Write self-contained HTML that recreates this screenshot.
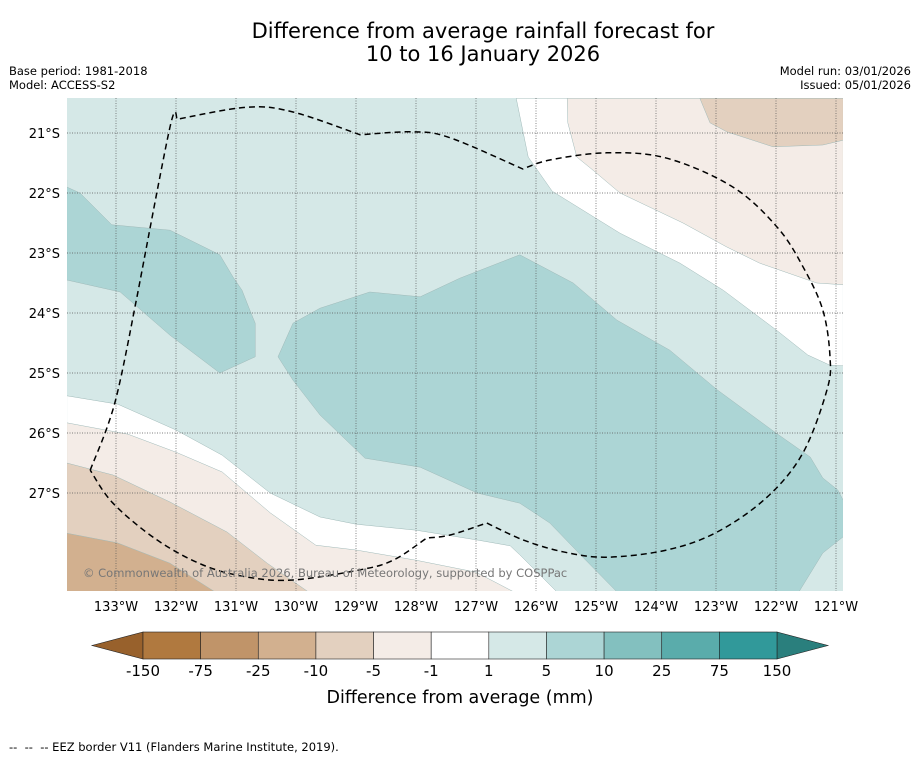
<!DOCTYPE html>
<html><head><meta charset="utf-8"><style>
body{margin:0;background:#fff;font-family:"Liberation Sans","DejaVu Sans",sans-serif;}
svg{display:block}
text{font-family:"DejaVu Sans","Liberation Sans",sans-serif;}
</style></head><body>
<svg id="chart" width="919" height="758" viewBox="0 0 919 758">
<rect width="919" height="758" fill="#fff"/>
<text x="483" y="38" font-size="21" text-anchor="middle" fill="#000">Difference from average rainfall forecast for</text>
<text x="483" y="61" font-size="21" text-anchor="middle" fill="#000">10 to 16 January 2026</text>
<text x="9" y="75" font-size="11.5">Base period: 1981-2018</text>
<text x="9" y="89" font-size="11.5">Model: ACCESS-S2</text>
<text x="911" y="75" font-size="11.5" text-anchor="end">Model run: 03/01/2026</text>
<text x="911" y="89" font-size="11.5" text-anchor="end">Issued: 05/01/2026</text>
<defs><clipPath id="mapclip"><rect x="67" y="98" width="776" height="493"/></clipPath></defs>
<g id="map" clip-path="url(#mapclip)">
<rect x="67" y="98" width="776" height="493" fill="#d5e8e7"/>
</g>
<g id="grid"></g>
<g id="axes"></g>
<g id="eez"></g>
<text x="83" y="577" font-size="11.5" fill="#777">© Commonwealth of Australia 2026, Bureau of Meteorology, supported by COSPPac</text>
<g id="cbar"></g>
<text x="460" y="703" font-size="17.5" text-anchor="middle">Difference from average (mm)</text>
<text x="9" y="751" font-size="11.5" xml:space="preserve">--  --  -- EEZ border V11 (Flanders Marine Institute, 2019).</text>
</svg>
<script>
const NS="http://www.w3.org/2000/svg";
// Axis ticks
const lonTicks=[133,132,131,130,129,128,127,126,125,124,123,122,121];
const latTicks=[21,22,23,24,25,26,27];
// Colorbar
const cbarLevels=[-150,-75,-25,-10,-5,-1,1,5,10,25,75,150];
const cbarColors=["#b0793f","#c09469","#d2b08f","#e3d0bf","#f4ece7","#ffffff","#d5e8e7","#acd5d5","#83c0bf","#5aacab","#31999a"];
const cbarLowColor="#98612c", cbarHighColor="#2a7f7d";
// Contour regions [lonW, latS]
const whiteNE=[[126.33,20.42],[126.13,21.4],[125.73,21.97],[124.6,22.67],[123.6,23.17],[122.88,23.62],[122.0,24.28],[121.47,24.7],[121.1,24.87],[120.88,24.88],[120.88,20.42]];
const lightBeigeNE=[[125.48,20.42],[125.47,20.83],[125.32,21.4],[125.05,21.62],[124.6,22.0],[123.55,22.5],[122.82,22.9],[122.27,23.17],[121.32,23.5],[120.88,23.53],[120.88,20.42]];
const beigeNE=[[123.27,20.42],[123.1,20.83],[122.82,20.98],[122.05,21.23],[121.22,21.2],[120.88,21.12],[120.88,20.42]];
const whiteSW=[[133.82,25.38],[132.97,25.52],[132.0,25.95],[131.23,26.37],[130.43,27.0],[129.6,27.4],[129.0,27.52],[128.0,27.62],[127.0,27.78],[126.43,27.88],[126.27,28.03],[125.6,28.7],[133.82,28.7]];
const lightBeigeSW=[[133.82,25.83],[132.8,26.02],[132.0,26.32],[131.23,26.65],[130.43,27.33],[129.67,27.87],[129.0,27.95],[128.0,28.12],[127.0,28.32],[126.27,28.7],[133.82,28.7]];
const beigeSW=[[133.82,26.5],[133.05,26.7],[132.1,27.15],[131.15,27.65],[130.48,28.17],[129.72,28.7],[133.82,28.7]];
const tanSW=[[133.82,27.67],[132.98,27.83],[132.1,28.17],[131.27,28.7],[133.82,28.7]];
const tealWest=[[133.82,21.78],[133.82,21.9],[133.6,22.0],[133.07,22.53],[132.1,22.62],[131.27,23.03],[131.05,23.4],[130.9,23.62],[130.77,23.95],[130.68,24.17],[130.68,24.73],[131.27,25.0],[132.1,24.37],[132.93,23.65],[133.82,23.45]];
const tealCentral=[[130.05,24.17],[129.6,23.92],[128.77,23.65],[127.93,23.73],[127.27,23.42],[126.27,23.03],[125.38,23.5],[124.65,24.12],[123.77,24.62],[122.98,25.28],[122.0,26.0],[121.43,26.4],[121.22,26.75],[120.97,26.95],[120.88,27.12],[120.88,27.73],[121.22,28.0],[121.65,28.7],[124.6,28.7],[125.22,28.07],[125.77,27.5],[126.27,27.17],[126.98,27.0],[127.93,26.57],[128.85,26.42],[129.6,25.7],[130.05,25.12],[130.3,24.73]];
const eezLine=[[133.43,26.62],[133.02,25.5],[132.65,23.73],[132.1,20.9],[131.98,20.77],[130.82,20.57],[130.05,20.65],[128.93,21.03],[128.05,20.98],[127.43,21.08],[126.22,21.6],[125.77,21.45],[124.82,21.33],[123.82,21.42],[122.72,21.9],[121.98,22.57],[121.55,23.23],[121.22,23.95],[121.1,24.73],[121.15,25.28],[121.55,26.33],[122.15,27.07],[122.98,27.65],[123.82,27.95],[124.82,28.07],[125.55,27.98],[126.22,27.78],[126.82,27.5],[127.43,27.7],[127.82,27.75],[128.38,28.12],[128.93,28.28],[130.05,28.45],[130.82,28.4],[131.55,28.2],[132.32,27.78],[133.05,27.17],[133.43,26.62]];
const eezCorners=[0,2,4,7,10,27,29,37];

const X=lon=>116+(133-lon)*60;
const Y=lat=>133+(lat-21)*60;
function pts(a){return a.map(p=>X(p[0]).toFixed(1)+","+Y(p[1]).toFixed(1)).join(" ");}
const map=document.getElementById("map");
function poly(a,fill,name){
  const p=document.createElementNS(NS,"polygon");
  p.setAttribute("points",pts(a));
  p.setAttribute("fill",fill);
  p.setAttribute("stroke","#9fb9b8");
  p.setAttribute("stroke-width","0.5");
  
  
  map.appendChild(p);
}
poly(whiteNE,cbarColors[5],"region-neutral-ne");
poly(lightBeigeNE,cbarColors[4],"region-minus5-ne");
poly(beigeNE,cbarColors[3],"region-minus10-ne");
poly(whiteSW,cbarColors[5],"region-neutral-sw");
poly(lightBeigeSW,cbarColors[4],"region-minus5-sw");
poly(beigeSW,cbarColors[3],"region-minus10-sw");
poly(tanSW,cbarColors[2],"region-minus25-sw");
poly(tealWest,cbarColors[7],"region-plus10-west");
poly(tealCentral,cbarColors[7],"region-plus10-central");

const grid=document.getElementById("grid"), axes=document.getElementById("axes");
lonTicks.forEach(l=>{
  const x=X(l);
  const ln=document.createElementNS(NS,"line");
  ln.setAttribute("x1",x);ln.setAttribute("x2",x);ln.setAttribute("y1",98);ln.setAttribute("y2",591);
  ln.setAttribute("stroke","#555");ln.setAttribute("stroke-width","0.7");ln.setAttribute("stroke-dasharray","1,1.5");
  
  
  grid.appendChild(ln);
  const t=document.createElementNS(NS,"text");
  t.setAttribute("x",x);t.setAttribute("y",611);t.setAttribute("font-size","13");t.setAttribute("text-anchor","middle");
  t.textContent=l+"°W";
  
  
  axes.appendChild(t);
});
latTicks.forEach(l=>{
  const y=Y(l);
  const ln=document.createElementNS(NS,"line");
  ln.setAttribute("x1",67);ln.setAttribute("x2",843);ln.setAttribute("y1",y);ln.setAttribute("y2",y);
  ln.setAttribute("stroke","#555");ln.setAttribute("stroke-width","0.7");ln.setAttribute("stroke-dasharray","1,1.5");
  
  
  grid.appendChild(ln);
  const t=document.createElementNS(NS,"text");
  t.setAttribute("x",60);t.setAttribute("y",y+5);t.setAttribute("font-size","13");t.setAttribute("text-anchor","end");
  t.textContent=l+"°S";
  
  
  axes.appendChild(t);
});
// smooth EEZ path (Catmull-Rom within segments between sharp corners)
const P=eezLine.map(p=>[X(p[0]),Y(p[1])]);
let d="M"+P[0][0].toFixed(1)+","+P[0][1].toFixed(1);
for(let c=0;c<eezCorners.length-1;c++){
  const a=eezCorners[c], b=eezCorners[c+1];
  for(let i=a;i<b;i++){
    const p0=P[i===a?i:i-1], p1=P[i], p2=P[i+1], p3=P[i+1===b?i+1:i+2];
    const c1=[p1[0]+(p2[0]-p0[0])/6, p1[1]+(p2[1]-p0[1])/6];
    const c2=[p2[0]-(p3[0]-p1[0])/6, p2[1]-(p3[1]-p1[1])/6];
    d+=` C${c1[0].toFixed(1)},${c1[1].toFixed(1)} ${c2[0].toFixed(1)},${c2[1].toFixed(1)} ${p2[0].toFixed(1)},${p2[1].toFixed(1)}`;
  }
}
const eez=document.getElementById("eez");
const pl=document.createElementNS(NS,"path");
pl.setAttribute("d",d);
pl.setAttribute("fill","none");pl.setAttribute("stroke","#000");pl.setAttribute("stroke-width","1.5");
pl.setAttribute("stroke-dasharray","6,4");pl.setAttribute("stroke-linejoin","round");


eez.appendChild(pl);

// colorbar
const cb=document.getElementById("cbar");
const cx0=143,cx1=777,cy0=632,cy1=659,seg=(cx1-cx0)/cbarColors.length;
const lo=document.createElementNS(NS,"polygon");
lo.setAttribute("points",`${cx0},${cy0} ${cx0},${cy1} 92,${(cy0+cy1)/2}`);
lo.setAttribute("fill",cbarLowColor);lo.setAttribute("stroke","#222");lo.setAttribute("stroke-width","0.6");


cb.appendChild(lo);
const hi=document.createElementNS(NS,"polygon");
hi.setAttribute("points",`${cx1},${cy0} ${cx1},${cy1} 828,${(cy0+cy1)/2}`);
hi.setAttribute("fill",cbarHighColor);hi.setAttribute("stroke","#222");hi.setAttribute("stroke-width","0.6");


cb.appendChild(hi);
cbarColors.forEach((c,i)=>{
  const r=document.createElementNS(NS,"rect");
  r.setAttribute("x",cx0+i*seg);r.setAttribute("y",cy0);r.setAttribute("width",seg);r.setAttribute("height",cy1-cy0);
  r.setAttribute("fill",c);r.setAttribute("stroke","#222");r.setAttribute("stroke-width","0.6");
  
  
  cb.appendChild(r);
});
cbarLevels.forEach((v,i)=>{
  const t=document.createElementNS(NS,"text");
  t.setAttribute("x",cx0+i*seg);t.setAttribute("y",676);t.setAttribute("font-size","15");t.setAttribute("text-anchor","middle");
  t.textContent=v;
  
  
  cb.appendChild(t);
});
</script>
</body></html>
